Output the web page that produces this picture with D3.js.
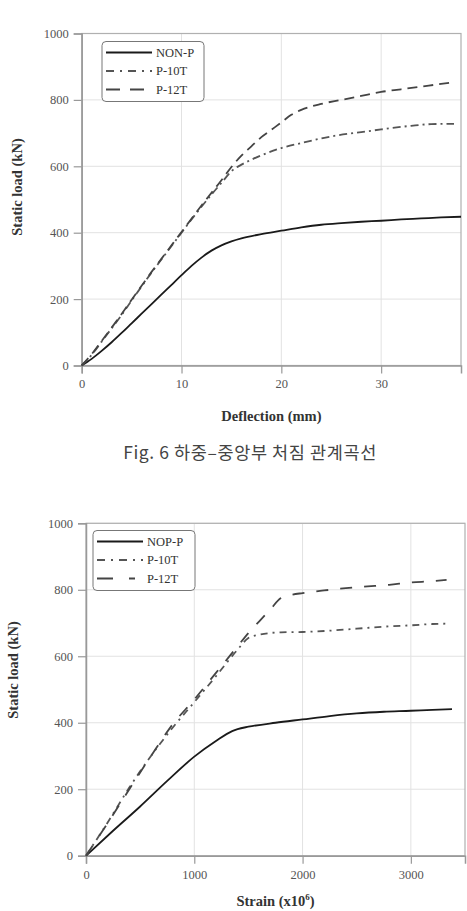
<!DOCTYPE html>
<html>
<head>
<meta charset="utf-8">
<script src="https://cdn.jsdelivr.net/npm/d3@7"></script>
<style>
  body { margin: 0; background: #fff; }
  text { font-family: "Liberation Serif", "DejaVu Serif", serif; }
</style>
</head>
<body>
<div id="chart"></div>
<script>
// Fig. 6 : load vs mid-span deflection
const deflTicks = [0, 10, 20, 30];
const loadTicks = [0, 200, 400, 600, 800, 1000];
const deflNonP = [[0,0],[1,20],[2,44],[3,70],[4,98],[5,127],[6,156],[7,185],[8,214],[9,243],[10,272],[11,300],[12,325],[13,346],[14,362],[15,374],[16,383],[18,396],[20,406],[22,416],[24,424],[26,429],[28,433],[30,436],[32,440],[34,443],[36,446],[38,448]];
const deflP10 = [[0,0],[1,32],[2,72],[3,112],[4,152],[5,196],[6,238],[7,280],[8,320],[9,360],[10,400],[11,440],[12,478],[13,515],[14,550],[15,585],[16,605],[17,620],[18,633],[20,655],[22,670],[25,690],[28,703],[30,711],[33,722],[35,727],[37.3,728]];
const deflP12 = [[0,0],[1,34],[2,74],[3,114],[4,155],[5,198],[6,240],[7,282],[8,322],[9,362],[10,402],[11,442],[12,482],[13,520],[14,558],[15,598],[16,632],[17,660],[18,688],[19,710],[20,732],[21,755],[22,770],[24,788],[26,800],[28,812],[30,824],[32,832],[34,840],[36,848],[37.3,853]];

// second panel : load vs strain
const strainTicks = [0, 1000, 2000, 3000];
const strainNonP = [[0,0],[250,75],[500,148],[750,225],[1000,298],[1200,345],[1350,375],[1400,381],[1500,388],[1750,400],[2000,410],[2250,420],[2500,428],[2750,433],[3000,436],[3200,439],[3380,441]];
const strainP10 = [[0,0],[200,100],[400,205],[600,300],[800,385],[1000,462],[1200,540],[1400,620],[1500,655],[1600,665],[1800,672],[2000,673],[2200,676],[2500,683],[2800,690],[3000,693],[3200,697],[3330,698]];
const strainP12 = [[0,0],[200,98],[400,200],[600,300],[800,395],[1000,470],[1200,550],[1400,630],[1500,670],[1600,705],[1700,740],[1800,775],[1900,785],[2000,790],[2200,798],[2400,805],[2600,810],[2800,815],[3000,822],[3200,826],[3330,830]];

const W = 467, H = 911;
const svg = d3.select("#chart").append("svg")
    .attr("width", W)
    .attr("height", H);

const styles = [
    { color: "#1a1a1a", width: 1.8 },
    { color: "#555", width: 1.8 },
    { color: "#444", width: 1.8 }
];

function drawPanel(p) {
    const x = d3.scaleLinear().domain(p.xDomain).range([p.left, p.right]);
    const y = d3.scaleLinear().domain([0, 1000]).range([p.bottom, p.top]);
    const g = svg.append("g");

    // grid
    g.append("g").selectAll("line").data(p.xTicks.slice(1)).enter().append("line")
        .attr("x1", d => x(d)).attr("x2", d => x(d))
        .attr("y1", p.top).attr("y2", p.bottom)
        .attr("stroke", "#e2e2e2").attr("stroke-width", 1);
    g.append("g").selectAll("line").data(loadTicks.slice(1)).enter().append("line")
        .attr("x1", p.left).attr("x2", p.right)
        .attr("y1", d => y(d)).attr("y2", d => y(d))
        .attr("stroke", "#e2e2e2").attr("stroke-width", 1);

    // frame
    g.append("rect")
        .attr("x", p.left).attr("y", p.top)
        .attr("width", p.right - p.left).attr("height", p.bottom - p.top)
        .attr("fill", "none").attr("stroke", "#b0b0b0").attr("stroke-width", 1.2);

    const xAxis = g.append("g")
        .attr("transform", `translate(0,${p.bottom})`)
        .call(d3.axisBottom(x).tickValues(p.xTicks).tickFormat(d3.format("d")).tickSize(8).tickPadding(6));
    const yAxis = g.append("g")
        .attr("transform", `translate(${p.left},0)`)
        .call(d3.axisLeft(y).tickValues(loadTicks).tickFormat(d3.format("d")).tickSize(8).tickPadding(5));
    [xAxis, yAxis].forEach(a => {
        a.select(".domain").attr("stroke", "#999").attr("stroke-width", 1.5);
        a.selectAll(".tick line").attr("stroke", "#999").attr("stroke-width", 1.2);
        a.selectAll(".tick text")
            .attr("fill", "#555")
            .attr("font-size", 12.5)
            .style("font-family", "Liberation Serif, serif");
    });

    // curves
    const line = d3.line().x(d => x(d[0])).y(d => y(d[1])).curve(d3.curveMonotoneX);
    p.series.forEach((s, i) => {
        g.append("path")
            .datum(s)
            .attr("d", line)
            .attr("fill", "none")
            .attr("stroke", styles[i].color)
            .attr("stroke-width", styles[i].width)
            .attr("stroke-dasharray", p.dashes[i]);
    });

    // legend
    const lg = g.append("g");
    lg.append("rect")
        .attr("x", p.legend.x).attr("y", p.legend.y)
        .attr("width", 102).attr("height", 60)
        .attr("rx", 4)
        .attr("fill", "#fff").attr("stroke", "#777").attr("stroke-width", 1);
    p.names.forEach((name, i) => {
        const yy = p.legend.y + 11 + i * 18.5;
        lg.append("line")
            .attr("x1", p.legend.x + 4).attr("x2", p.legend.x + 50)
            .attr("y1", yy).attr("y2", yy)
            .attr("stroke", styles[i].color)
            .attr("stroke-width", styles[i].width)
            .attr("stroke-dasharray", p.legendDashes[i]);
        lg.append("text")
            .attr("x", p.legend.x + 54).attr("y", yy + 4)
            .attr("font-size", 12.5)
            .attr("fill", "#333")
            .text(name);
    });

    // axis titles
    const xt = g.append("text")
        .attr("x", (p.left + p.right) / 2)
        .attr("y", p.xTitleY)
        .attr("text-anchor", "middle")
        .attr("font-size", 14.5)
        .attr("font-weight", "bold")
        .attr("fill", "#333")
        .text(p.xTitle);
    if (p.xSup) {
        xt.append("tspan").attr("dy", -6).attr("font-size", 9).text(p.xSup);
        xt.append("tspan").attr("dy", 6).text(")");
    }
    g.append("text")
        .attr("transform", `translate(${p.yTitleX},${p.yTitleY}) rotate(-90)`)
        .attr("text-anchor", "middle")
        .attr("font-size", 14.5)
        .attr("font-weight", "bold")
        .attr("fill", "#333")
        .text("Static load (kN)");
}

drawPanel({
    xDomain: [0, 38], xTicks: deflTicks,
    left: 81.7, right: 461, top: 33.5, bottom: 365.5,
    series: [deflNonP, deflP10, deflP12],
    names: ["NON-P", "P-10T", "P-12T"],
    dashes: [null, "8,4,2,4", "10,6"],
    legendDashes: [null, "8,6,2,6", "14,10"],
    legend: { x: 102, y: 41.5 },
    xTitle: "Deflection (mm)", xTitleY: 421,
    yTitleX: 22, yTitleY: 187
});

svg.append("text")
    .attr("x", 250)
    .attr("y", 459)
    .attr("text-anchor", "middle")
    .style("font-family", "'Noto Sans CJK KR', sans-serif")
    .attr("font-size", 17.5)
    .attr("letter-spacing", 0.6)
    .attr("fill", "#444")
    .text("Fig. 6 하중–중앙부 처짐 관계곡선");

drawPanel({
    xDomain: [0, 3500], xTicks: strainTicks,
    left: 86, right: 465, top: 523.3, bottom: 855.7,
    series: [strainNonP, strainP10, strainP12],
    names: ["NOP-P", "P-10T", "P-12T"],
    dashes: [null, "7,5,2,5", "12,12"],
    legendDashes: [null, "8,6,2,6", "16,16,6,100"],
    legend: { x: 93, y: 530.5 },
    xTitle: "Strain (x10", xSup: "6", xTitleY: 906,
    yTitleX: 18, yTitleY: 670
});
</script>
</body>
</html>
